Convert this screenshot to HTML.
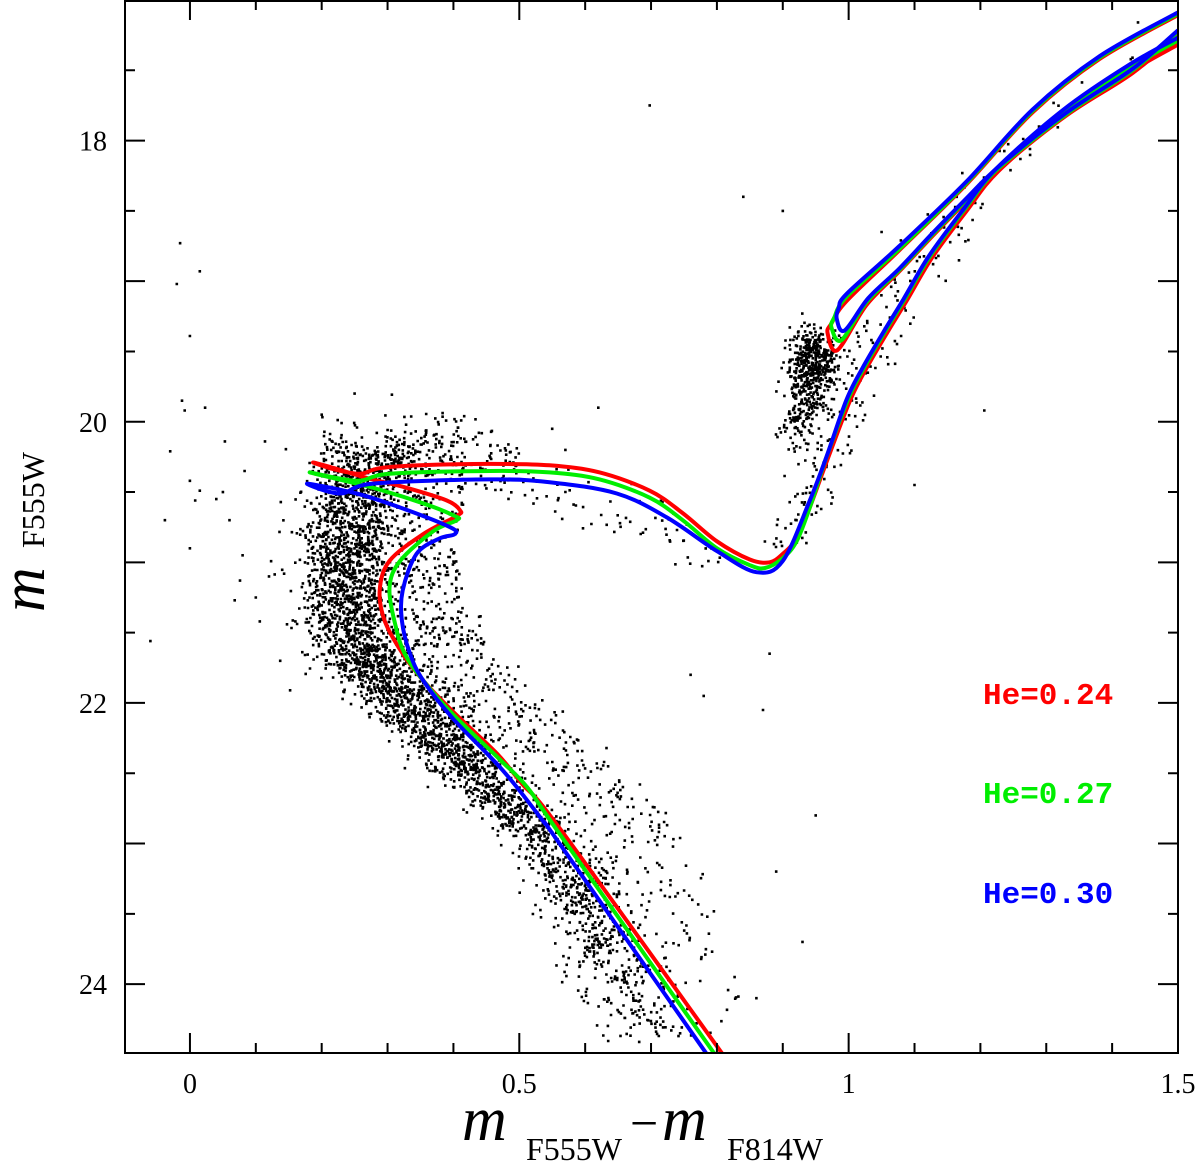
<!DOCTYPE html>
<html><head><meta charset="utf-8"><title>CMD with He isochrones</title>
<style>
html,body{margin:0;padding:0;background:#fff;}
svg{display:block;}
.tick{font-family:"Liberation Serif",serif;font-size:28px;fill:#000;}
.lab{font-family:"Liberation Mono",monospace;font-weight:bold;font-size:31px;}
</style></head>
<body>
<svg id="chart" width="1200" height="1162" viewBox="0 0 1200 1162" xmlns="http://www.w3.org/2000/svg">
<defs><clipPath id="clip"><rect x="125" y="0" width="1053" height="1053"/></clipPath></defs>
<g id="stars" clip-path="url(#clip)"></g>
<g id="isos" clip-path="url(#clip)"></g>
<g id="axes"></g>
<text class="lab" x="983" y="704" fill="#ff0000">He=0.24</text>
<text class="lab" x="983" y="803" fill="#00ee00">He=0.27</text>
<text class="lab" x="983" y="903" fill="#0000ff">He=0.30</text>
<g font-family="Liberation Serif, serif">
<text x="462" y="1140" font-size="62" font-style="italic">m</text>
<text x="526" y="1160" font-size="32">F555W</text>
<text x="630" y="1140" font-size="50">−</text>
<text x="662" y="1140" font-size="62" font-style="italic">m</text>
<text x="727" y="1160" font-size="32">F814W</text>
</g>
<g font-family="Liberation Serif, serif" transform="translate(24,0) rotate(-90)">
<text x="-612" y="20" font-size="62" font-style="italic">m</text>
<text x="-548" y="20" font-size="32" dy="0">F555W</text>
</g>
</svg>
<script>
// ---- axes ----
const xMin=-0.0986, xMax=1.5, yTop=17.0, yBot=24.49;
const L=125,R=1178,T=0,B=1053;
function X(c){return L+(c-xMin)/(xMax-xMin)*(R-L);}
function Y(m){return T+(m-yTop)/(yBot-yTop)*(B-T);}
const NS="http://www.w3.org/2000/svg";
function mk(tag,attrs,parent){const e=document.createElementNS(NS,tag);for(const k in attrs)e.setAttribute(k,attrs[k]);parent.appendChild(e);return e;}

const xTickLabels=["0","0.5","1","1.5"];
const xTickVals=[0,0.5,1,1.5];
const yTickLabels=["18","20","22","24"];
const yTickVals=[18,20,22,24];

// ---- isochrone data ----
const redMainC=[0.809,0.561,0.505,0.466,0.399,0.354,0.323,0.296,0.288,0.303,0.354,0.405,0.410,0.390,0.329,0.269,0.212,0.187,0.220,0.258,0.288,0.349,0.455,0.546,0.622,0.698,0.748,0.800,0.850,0.880,0.900,0.921,0.941,0.967,1.002,1.027,1.058,1.088,1.127,1.179,1.229,1.331,1.431,1.499];
const redMainM=[24.50,22.89,22.58,22.36,22.06,21.84,21.65,21.42,21.20,20.99,20.80,20.67,20.63,20.56,20.47,20.40,20.32,20.29,20.34,20.37,20.33,20.31,20.30,20.31,20.36,20.49,20.65,20.85,20.98,21.00,20.94,20.83,20.61,20.28,19.85,19.62,19.37,19.14,18.83,18.50,18.21,17.81,17.50,17.32];
const greenMainC=[0.797,0.561,0.512,0.470,0.399,0.354,0.326,0.312,0.303,0.319,0.369,0.405,0.402,0.354,0.278,0.182,0.253,0.303,0.455,0.546,0.622,0.698,0.748,0.800,0.850,0.873,0.900,0.921,0.941,0.965,0.999,1.024,1.055,1.085,1.124,1.176,1.226,1.328,1.428,1.499];
const greenMainM=[24.50,22.93,22.60,22.40,22.08,21.84,21.65,21.45,21.18,20.99,20.78,20.70,20.67,20.58,20.47,20.36,20.42,20.37,20.35,20.36,20.41,20.54,20.70,20.90,21.02,21.04,20.97,20.85,20.61,20.27,19.84,19.61,19.36,19.13,18.82,18.49,18.20,17.79,17.48,17.29];
const blueMainC=[0.785,0.561,0.536,0.475,0.399,0.354,0.334,0.322,0.323,0.344,0.379,0.402,0.395,0.319,0.253,0.178,0.228,0.278,0.455,0.546,0.648,0.724,0.800,0.860,0.900,0.941,0.967,0.997,1.022,1.053,1.083,1.122,1.174,1.224,1.326,1.426,1.499];
const blueMainM=[24.50,23.00,22.84,22.48,22.11,21.84,21.65,21.42,21.20,20.94,20.83,20.80,20.75,20.61,20.51,20.44,20.51,20.44,20.41,20.43,20.51,20.68,20.92,21.07,20.99,20.56,20.24,19.84,19.61,19.36,19.13,18.82,18.49,18.20,17.78,17.46,17.27];
const redHbC=[1.499,1.431,1.331,1.229,1.179,1.127,1.077,1.027,0.983,0.968,0.974,0.997,1.077,1.179,1.279,1.381,1.499];
const redHbM=[17.25,17.52,17.82,18.20,18.43,18.68,18.93,19.17,19.49,19.37,19.30,19.14,18.78,18.31,17.80,17.42,17.11];
const greenHbC=[1.499,1.431,1.331,1.229,1.179,1.127,1.077,1.027,0.989,0.974,0.978,0.997,1.077,1.179,1.279,1.381,1.499];
const greenHbM=[17.23,17.50,17.81,18.19,18.42,18.67,18.92,19.15,19.42,19.33,19.26,19.11,18.77,18.30,17.79,17.41,17.10];
const blueHbC=[1.499,1.431,1.331,1.229,1.179,1.127,1.077,1.030,0.994,0.982,0.985,0.997,1.077,1.179,1.279,1.381,1.499];
const blueHbM=[17.22,17.49,17.80,18.18,18.41,18.66,18.91,19.12,19.35,19.27,19.19,19.09,18.75,18.29,17.78,17.40,17.09];

// ---- star population data ----
const msMag=[20.2,20.5,21.0,21.5,22.0,22.5,23.0,23.5,24.0,24.4];
const msCol=[0.27,0.25,0.235,0.245,0.32,0.43,0.55,0.61,0.66,0.71];
const msSig=[0.04,0.038,0.038,0.038,0.034,0.03,0.03,0.033,0.036,0.04];
const msCount=[320,650,750,800,700,480,340,230,110];
const rgbMag=[20.9,20.6,20.3,19.9,19.5,19.1,18.8,18.5,18.2,17.8,17.4,17.1];
const rgbCol=[0.90,0.94,0.965,0.995,1.03,1.08,1.12,1.17,1.22,1.32,1.42,1.48];
const rgbCount=[25,25,30,30,30,22,18,15,12,8,6];
const clumpC=[0.947,0.937,0.925];
const clumpM=[19.55,19.80,20.05];
const clumpSigC=[0.02,0.017,0.015];
const clumpSigM=[0.12,0.12,0.12];
const clumpN=[380,150,60];
const fieldC=[-0.02,-0.015,0.015,0.0,-0.012,-0.008,0.023,-0.03,0.0,0.015,0.008,-0.038,0.0,-0.06,0.053,0.083,0.076,0.068,0.106,0.137,0.152,0.114,0.698,1.206,0.88,0.89,0.87,1.05,0.86,0.95,0.12,0.08,0.1,0.06,0.55,0.62,0.57,0.76,0.78,0.93,1.1,0.84,0.9,0.05,0.04,0.25,0.2];
const fieldM=[19.02,18.73,18.93,19.39,19.85,19.92,19.90,20.21,20.42,20.49,20.56,20.70,20.90,21.56,20.14,20.35,21.13,21.27,21.42,21.70,21.91,20.14,17.75,19.92,21.65,23.2,22.05,18.65,24.1,22.8,21.1,20.95,21.25,20.7,20.05,19.9,20.2,21.8,21.95,23.7,20.45,18.4,18.5,20.5,20.55,19.8,19.95];

let seed=12345;
function rnd(){seed|=0;seed=seed+0x6D2B79F5|0;let t=Math.imul(seed^seed>>>15,1|seed);t=t+Math.imul(t^t>>>7,61|t)^t;return((t^t>>>14)>>>0)/4294967296;}
function gauss(){let u=rnd()||1e-9,v=rnd();return Math.sqrt(-2*Math.log(u))*Math.cos(2*Math.PI*v);}

const starG=document.getElementById('stars');
let pts=[];
function star(c,m){pts.push([c,m]);}
for(let i=0;i<msCount.length;i++){
  for(let k=0;k<msCount[i];k++){
    const f=rnd();
    const m=msMag[i]+f*(msMag[i+1]-msMag[i])+gauss()*0.03;
    const c0=msCol[i]+f*(msCol[i+1]-msCol[i]);
    const s=msSig[i]+f*(msSig[i+1]-msSig[i]);
    if(rnd()<0.2){star(c0+0.03+rnd()*0.14, m-rnd()*0.35);}
    else star(c0+gauss()*s,m);
  }
}
for(let k=0;k<220;k++){const c=0.2+rnd()*0.3;star(c,20.2+gauss()*0.12+(c-0.2)*0.3);}
for(let k=0;k<70;k++){const c=0.45+rnd()*0.35;star(c+gauss()*0.02,20.35+(c-0.45)*1.6+gauss()*0.1);}
for(let i=0;i<rgbCount.length;i++){
  for(let k=0;k<rgbCount[i];k++){
    const f=rnd();
    star(rgbCol[i]+f*(rgbCol[i+1]-rgbCol[i])+gauss()*0.022,rgbMag[i]+f*(rgbMag[i+1]-rgbMag[i]));
  }
}
for(let i=0;i<clumpC.length;i++){
  for(let k=0;k<clumpN[i];k++){star(clumpC[i]+gauss()*clumpSigC[i],clumpM[i]+gauss()*clumpSigM[i]);}
}
for(let i=0;i<fieldC.length;i++) star(fieldC[i],fieldM[i]);
let d="";
for(const p of pts){const x=X(p[0]),y=Y(p[1]);d+="M"+(x-1.3).toFixed(1)+" "+(y-1.3).toFixed(1)+"h2.6v2.6h-2.6z";}
const sp=mk('path',{d:d,fill:'#000'},starG);



// isochrones (smoothed Catmull-Rom)
const isoG=document.getElementById('isos');
function line(cs,ms,color,name){
  const P=cs.map((c,i)=>[X(c),Y(ms[i])]);
  let s="M"+P[0][0].toFixed(1)+" "+P[0][1].toFixed(1);
  for(let i=0;i<P.length-1;i++){
    const p0=P[Math.max(0,i-1)],p1=P[i],p2=P[i+1],p3=P[Math.min(P.length-1,i+2)];
    const t=1/6;
    const c1=[p1[0]+(p2[0]-p0[0])*t,p1[1]+(p2[1]-p0[1])*t];
    const c2=[p2[0]-(p3[0]-p1[0])*t,p2[1]-(p3[1]-p1[1])*t];
    s+="C"+c1[0].toFixed(1)+" "+c1[1].toFixed(1)+" "+c2[0].toFixed(1)+" "+c2[1].toFixed(1)+" "+p2[0].toFixed(1)+" "+p2[1].toFixed(1);
  }
  const p=mk('path',{d:s,fill:'none',stroke:color,'stroke-width':4,'stroke-linejoin':'round','stroke-linecap':'round'},isoG);
  
  
}
line(redMainC,redMainM,'#ff0000','isochrone-he-0.24');
line(redHbC,redHbM,'#ff0000','hb-agb-he-0.24');
line(greenMainC,greenMainM,'#00ee00','isochrone-he-0.27');
line(greenHbC,greenHbM,'#00ee00','hb-agb-he-0.27');
line(blueMainC,blueMainM,'#0000ff','isochrone-he-0.30');
line(blueHbC,blueHbM,'#0000ff','hb-agb-he-0.30');

// axes
const ax=document.getElementById('axes');
const fr=mk('rect',{x:L,y:T+1,width:R-L,height:B-T-1,fill:'none',stroke:'#000','stroke-width':2},ax);


let td="";
for(let i=0;i<=16;i++){const c=i/10;const x=X(c);const len=(i%5===0)?20:10;td+="M"+x+" "+B+"v"+(-len)+"M"+x+" "+T+"v"+len;}
for(let i=0;i<=13;i++){const m=17.5+i*0.5;const y=Y(m);if(y>B)continue;const len=(i%2===1)?20:10;td+="M"+L+" "+y+"h"+len+"M"+R+" "+y+"h"+(-len);}
const tk=mk('path',{d:td,stroke:'#000','stroke-width':2,fill:'none'},ax);


for(let i=0;i<xTickVals.length;i++){
  const t=mk('text',{x:X(xTickVals[i]),y:1093,'text-anchor':'middle',class:'tick'},ax);
  t.textContent=xTickLabels[i];
  
  
}
for(let i=0;i<yTickVals.length;i++){
  const t=mk('text',{x:107,y:Y(yTickVals[i])+10,'text-anchor':'end',class:'tick'},ax);
  t.textContent=yTickLabels[i];
  
  
}
</script>
</body></html>
